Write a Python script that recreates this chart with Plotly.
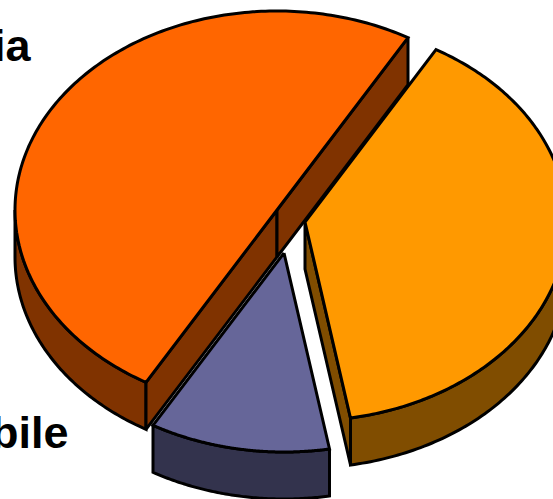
import numpy as np
import plotly.graph_objects as go

# Data
categories = ["", "bile", "ia"]
values = [35, 10, 45]

# Styles
top_colors = ["#FF9900", "#666699", "#FF6600"]
side_colors = ["#804D00", "#33334D", "#803300"]
centers = [(305, 222), (284, 253), (277, 210)]   # exploded slice apexes, screen px
RX, RY, DEPTH = 262, 199, 47
START = 60.0
LW = 3
OUT = "#000000"


def rim(cx, cy, a0, a1, n=90):
    t = np.radians(np.linspace(a0, a1, n))
    return cx + RX * np.cos(t), cy - RY * np.sin(t)


fig = go.Figure()


def poly(x, y, color):
    fig.add_trace(go.Scatter(
        x=np.append(x, x[0]), y=np.append(y, y[0]), mode="lines", fill="toself",
        fillcolor=color, line=dict(color=OUT, width=LW, simplify=False),
        hoverinfo="skip", showlegend=False))


total = sum(values)
angle = START
spans = []
for v in values:
    a1 = angle - 360.0 * v / total
    spans.append((angle, a1))
    angle = a1

for (a0, a1), (cx, cy), top, side in zip(spans, centers, top_colors, side_colors):
    # outer wall: only the part of the rim on the front of the ellipse
    lo, hi = a1, a0
    for k in (0, -360):
        f0, f1 = max(lo, -180 + k), min(hi, 0 + k)
        if f1 > f0:
            x, y = rim(cx, cy, f1, f0)
            poly(np.r_[x, x[::-1]], np.r_[y, y[::-1] + DEPTH], side)
    # radial walls whose downward shift falls outside the slice top
    for a in (a0, a1):
        ex, ey = rim(cx, cy, a, a, 1)
        sweep_mid = np.radians((a0 + a1) / 2)
        mx, my = cx + RX * np.cos(sweep_mid), cy - RY * np.sin(sweep_mid)
        # side of the edge on which the slice lies, versus the downward direction
        cross_mid = (ex[0] - cx) * (my - cy) - (ey[0] - cy) * (mx - cx)
        cross_down = (ex[0] - cx) * DEPTH
        if cross_mid * cross_down < 0:
            poly(np.array([cx, ex[0], ex[0], cx]),
                 np.array([cy, ey[0], ey[0] + DEPTH, cy + DEPTH]), side)
    # top face
    x, y = rim(cx, cy, a0, a1, 200)
    poly(np.r_[cx, x], np.r_[cy, y], top)

label_pos = {"bile": (71, 432), "ia": (34, 45)}
for name in categories:
    if name:
        px, py = label_pos[name]
        fig.add_annotation(x=px, y=py, text="<b>" + name + "</b>", showarrow=False,
                           xanchor="right", yanchor="middle", xref="x", yref="y",
                           font=dict(family="Liberation Sans", size=45, color="#000000"))

fig.update_layout(
    width=553, height=499, margin=dict(l=0, r=0, t=0, b=0),
    paper_bgcolor="white", plot_bgcolor="white", showlegend=False,
    xaxis=dict(range=[0, 553], visible=False, fixedrange=True),
    yaxis=dict(range=[499, 0], visible=False, fixedrange=True),
)
fig.write_html("out.html", config=dict(displayModeBar=False),
               post_script="document.body.style.margin='0';document.body.style.overflow='hidden';")
